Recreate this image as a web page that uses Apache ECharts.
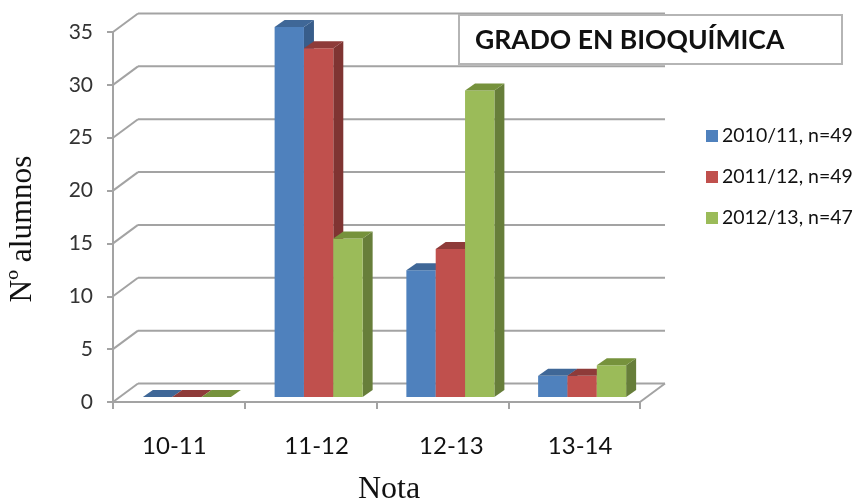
<!DOCTYPE html>
<html>
<head>
<meta charset="utf-8">
<style>html,body{margin:0;padding:0;background:#fff}#c{width:855px;height:498px}</style>
<script src="https://cdn.jsdelivr.net/npm/echarts@6/dist/echarts.min.js"></script>
</head>
<body>
<div id="c"></div>
<script>
const categories = ['10-11', '11-12', '12-13', '13-14'];
const yTicks = [0, 5, 10, 15, 20, 25, 30, 35];
const seriesNames = ['2010/11, n=49', '2011/12, n=49', '2012/13, n=47'];
const values2010 = [0, 35, 12, 2];
const values2011 = [0, 33, 14, 2];
const values2012 = [0, 15, 29, 3];
const allValues = [values2010, values2011, values2012];
const frontColors = ['#4F81BD', '#C0504D', '#9BBB59'];
const sideColors = ['#385D8A', '#7F3432', '#677E3A'];
const topColors = ['#3F6797', '#8E3B39', '#76923C'];

const FONT = 'Lato';
const WALL = { dx: 25, dy: -18.5 };
const BAR_OFFSET = { dx: 8, dy: -5 };
const DEPTH = { dx: 10, dy: -7 };
const BAR_RATIO = 0.2227;
const GRID_COLOR = '#A3A3A3';

function poly(points, fill) {
  return { type: 'polygon', shape: { points }, style: { fill, stroke: null } };
}
function line(x1, y1, x2, y2) {
  return { type: 'line', shape: { x1, y1, x2, y2 }, style: { stroke: GRID_COLOR, lineWidth: 2, fill: null } };
}
function renderWall(params, api) {
  const r = params.coordSys;
  const y = api.coord([0, api.value(1)])[1];
  const left = r.x, right = r.x + r.width;
  const children = [
    line(left, y, left + WALL.dx, y + WALL.dy),
    line(left + WALL.dx, y + WALL.dy, right + WALL.dx, y + WALL.dy)
  ];
  if (api.value(1) === 0) {
    children.push(line(right, y, right + WALL.dx, y + WALL.dy));
    children.push(line(left, y, right, y));
  }
  return { type: 'group', children };
}
function makeBarRenderer(idx) {
  return function (params, api) {
    const cat = api.value(0), val = api.value(1);
    const base = api.coord([cat, 0]);
    const top = api.coord([cat, val]);
    const w = api.size([1, 0])[0] * BAR_RATIO;
    const x0 = base[0] + BAR_OFFSET.dx - 1.5 * w + idx * w;
    const x1 = x0 + w;
    const yb = base[1] + BAR_OFFSET.dy;
    const yt = top[1] + BAR_OFFSET.dy;
    const d = DEPTH;
    return {
      type: 'group',
      children: [
        poly([[x1, yb], [x1 + d.dx, yb + d.dy], [x1 + d.dx, yt + d.dy], [x1, yt]], sideColors[idx]),
        poly([[x0, yb], [x1, yb], [x1, yt], [x0, yt]], frontColors[idx]),
        poly([[x0, yt], [x1, yt], [x1 + d.dx, yt + d.dy], [x0 + d.dx, yt + d.dy]], topColors[idx])
      ]
    };
  };
}

const labelStyle = { fontFamily: FONT, fontSize: 24, color: '#111' };
const chart = echarts.init(document.getElementById('c'), null, { renderer: 'canvas' });
chart.setOption({
  animation: false,
  backgroundColor: '#fff',
  title: {
    text: 'GRADO EN BIOQUÍMICA',
    left: 459, top: 15,
    padding: [12, 58, 10, 16],
    backgroundColor: '#fff',
    borderColor: '#B5B5B5',
    borderWidth: 2,
    textStyle: { fontFamily: FONT, fontWeight: 'bold', fontSize: 26.5, color: '#111' }
  },
  legend: {
    data: seriesNames,
    orient: 'vertical',
    left: 706, top: 126,
    itemWidth: 12, itemHeight: 12, itemGap: 21,
    icon: 'rect',
    selectedMode: false,
    padding: 0,
    textStyle: { fontFamily: FONT, fontSize: 19.5, color: '#111', padding: [0, 0, 0, -1] }
  },
  grid: { left: 113, top: 32, width: 527, height: 370, outerBoundsMode: 'none' },
  xAxis: {
    type: 'category',
    data: categories,
    name: 'Nota',
    nameLocation: 'middle',
    nameGap: 72,
    nameTextStyle: { fontFamily: 'Liberation Serif', fontSize: 32, color: '#111', padding: [0, 0, 0, 25] },
    axisLine: { lineStyle: { color: GRID_COLOR, width: 2 } },
    axisTick: { show: true, interval: 0, length: 7, alignWithLabel: false, lineStyle: { color: GRID_COLOR, width: 2 } },
    axisLabel: {
      interval: 0, hideOverlap: false,
      fontFamily: FONT, fontSize: 24, color: '#111', margin: 32,
      formatter: (v, i) => '{c' + i + '|' + v + '}',
      rich: {
        c0: Object.assign({ padding: [0, 9, 0, 0] }, labelStyle),
        c1: Object.assign({ padding: [0, 0, 0, 12] }, labelStyle),
        c2: Object.assign({ padding: [0, 0, 0, 18] }, labelStyle),
        c3: Object.assign({ padding: [0, 0, 0, 12] }, labelStyle)
      }
    }
  },
  yAxis: {
    type: 'value',
    min: 0, max: 35, interval: 5,
    name: 'Nº alumnos',
    nameLocation: 'middle',
    nameGap: 74,
    nameTextStyle: { fontFamily: 'Liberation Serif', fontSize: 31.5, color: '#111', padding: [0, 0, 0, -24] },
    splitLine: { show: false },
    axisLine: { show: true, lineStyle: { color: GRID_COLOR, width: 2 } },
    axisTick: { show: true, length: 6, lineStyle: { color: GRID_COLOR, width: 2 } },
    axisLabel: { fontFamily: FONT, fontSize: 21, color: '#333', margin: 20, padding: [2, 0, 0, 0] }
  },
  series: [
    {
      type: 'custom',
      name: 'walls',
      silent: true,
      z: 1,
      clip: false,
      renderItem: renderWall,
      encode: { x: 0, y: 1 },
      data: yTicks.map(v => [0, v])
    }
  ].concat(seriesNames.map((name, idx) => ({
    type: 'custom',
    name,
    z: 3,
    clip: false,
    itemStyle: { color: frontColors[idx] },
    renderItem: makeBarRenderer(idx),
    encode: { x: 0, y: 1 },
    data: allValues[idx].map((v, i) => [i, v])
  })))
});
</script>
</body>
</html>
